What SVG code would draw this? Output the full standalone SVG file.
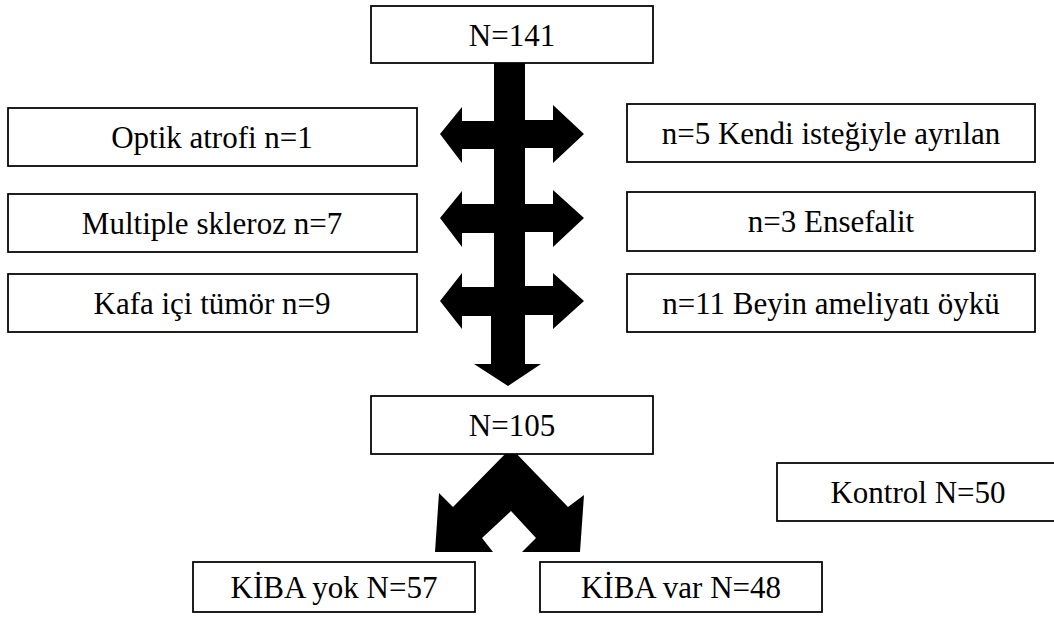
<svg xmlns="http://www.w3.org/2000/svg" width="1054" height="622" viewBox="0 0 1054 622">
<style>
.box{fill:#fff;stroke:#000;stroke-width:1.75}
.t{font-family:'Liberation Serif','Times New Roman',serif;font-size:31px;fill:#000;text-anchor:middle}
.arr{fill:#000;stroke:none}
</style>
<rect width="1054" height="622" fill="#fff"/>
<g id="connectors">
<polygon class="arr" points="494,60 525,60 525,120 553,120 553,105 584,134 553,163 553,148 525,148 525,204 553,204 553,190 584,218 553,247 553,232 525,232 525,286 553,286 553,273 584,301 553,329 553,315 525,315 525,364 541,364 508,386 474,364 491,364 491,316 462,316 462,329 440,301 462,273 462,287 494,287 494,233 462,233 462,247 440,218 462,191 462,204 494,204 494,149 462,149 462,163 440,134 462,107 462,121 494,121"/>
<polygon class="arr" points="511,448 568,507 584,495 580,552 522,552 536,538 511,511 482,538 493,552 435,552 439,493 453,507"/>
</g>
<g id="n141"><rect class="box" x="371" y="6" width="282" height="57"/><text class="t" x="512" y="46">N=141</text></g>
<g id="optik"><rect class="box" x="8" y="108" width="409" height="58"/><text class="t" x="212" y="148">Optik atrofi n=1</text></g>
<g id="ms"><rect class="box" x="8" y="194" width="409" height="58"/><text class="t" x="212" y="234">Multiple skleroz n=7</text></g>
<g id="tumor"><rect class="box" x="8" y="274" width="409" height="58"/><text class="t" x="212" y="314">Kafa içi tümör n=9</text></g>
<g id="kendi"><rect class="box" x="627" y="104" width="408" height="58"/><text class="t" x="831" y="144">n=5 Kendi isteğiyle ayrılan</text></g>
<g id="ensefalit"><rect class="box" x="627" y="192" width="408" height="59"/><text class="t" x="831" y="232">n=3 Ensefalit</text></g>
<g id="beyin"><rect class="box" x="627" y="274" width="408" height="58"/><text class="t" x="831" y="314">n=11 Beyin ameliyatı öykü</text></g>
<g id="n105"><rect class="box" x="371" y="396" width="282" height="58"/><text class="t" x="512" y="436">N=105</text></g>
<g id="kontrol"><rect class="box" x="777" y="463" width="290" height="58"/><text class="t" x="918" y="503">Kontrol N=50</text></g>
<g id="yok"><rect class="box" x="193" y="562" width="282" height="50"/><text class="t" x="334" y="598">KİBA yok N=57</text></g>
<g id="var"><rect class="box" x="540" y="562" width="282" height="50"/><text class="t" x="681" y="598">KİBA var N=48</text></g>
</svg>
